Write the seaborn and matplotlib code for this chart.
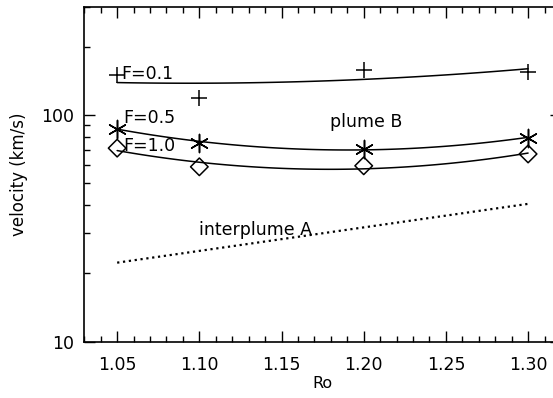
import numpy as np
import pandas as pd
import matplotlib
matplotlib.use('Agg')
import matplotlib.pyplot as plt
import seaborn as sns

# values (velocity in km/s)
ro = [1.05, 1.10, 1.20, 1.30]
v_f01 = [150, 119, 158, 155]
v_f05 = [87, 75.5, 70.6, 79.4]
v_f10 = [71.3, 59, 59.6, 67.2]
ro_inter = [1.05, 1.30]
v_inter = [22.3, 40.5]

sns.set_style("ticks")
plt.rcParams['font.family'] = ['DejaVu Sans']
plt.rcParams['text.color'] = 'k'
plt.rcParams['axes.labelcolor'] = 'k'
plt.rcParams['xtick.color'] = 'k'
plt.rcParams['ytick.color'] = 'k'

fig = plt.figure(figsize=(5.53, 3.98), dpi=100)
# axes runs past the right edge, as in the (cropped) reference
ax = fig.add_axes([0.1524, 0.1415, 0.862, 0.842])


def fit_curve(x, y):
    # quadratic fit in log space
    c = np.polyfit(x, np.log10(y), 2)
    xs = np.linspace(min(x), max(x), 100)
    return pd.DataFrame({'Ro': xs, 'v': 10 ** np.polyval(c, xs)})


for vals in [v_f01, v_f05, v_f10]:
    curve = fit_curve(ro, vals)
    sns.lineplot(data=curve, x='Ro', y='v', color='k', linewidth=1.1, ax=ax)

sns.scatterplot(x=ro, y=v_f01, marker='+', s=140, color='k', linewidth=1.1, ax=ax)
sns.scatterplot(x=ro, y=v_f05, marker=(6, 2, 0), s=170, color='k', linewidth=1.1, ax=ax)
sns.scatterplot(x=ro, y=v_f10, marker='D', s=80, facecolors='none',
                edgecolors='k', linewidth=1.1, ax=ax)
sns.lineplot(x=ro_inter, y=v_inter, color='k', linestyle=':', linewidth=1.6, ax=ax)

fs = 12.5
ax.text(1.0523, 151, 'F=0.1', va='center', ha='left', fontsize=fs)
ax.text(1.0535, 97, 'F=0.5', va='center', ha='left', fontsize=fs)
ax.text(1.0535, 73, 'F=1.0', va='center', ha='left', fontsize=fs)
ax.text(1.1797, 93.4, 'plume B', va='center', ha='left', fontsize=fs)
ax.text(1.0999, 31.1, 'interplume A', va='center', ha='left', fontsize=fs)

ax.set_yscale('log')
ax.set_xlim(1.03, 1.32)
ax.set_ylim(10, 300)
ax.set_xticks([1.05, 1.10, 1.15, 1.20, 1.25, 1.30])
ax.set_xticklabels(['1.05', '1.10', '1.15', '1.20', '1.25', '1.30'])
ax.set_xticks(np.arange(1.03, 1.325, 0.01), minor=True)
ax.set_yticks([10, 100])
ax.set_yticklabels(['10', '100'])
ax.tick_params(which='both', direction='in', top=True, right=True, labelsize=12.5)
ax.tick_params(which='major', length=8, width=1)
ax.tick_params(which='minor', length=4, width=1)
ax.tick_params(axis='x', pad=10)
ax.tick_params(axis='y', pad=7)
for s in ax.spines.values():
    s.set_linewidth(1.2)
    s.set_color('k')
ax.set_xlabel('Ro', fontsize=11.5, labelpad=2)
ax.set_ylabel('velocity (km/s)', fontsize=12, labelpad=10)

fig.savefig('out.png', dpi=100)
